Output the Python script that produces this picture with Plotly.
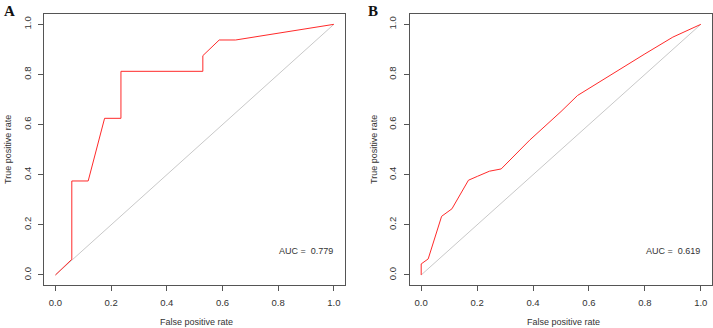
import plotly.graph_objects as go

# Panel A ROC points
fpr_a = [0.0, 0.0588, 0.0588, 0.1176, 0.1765, 0.2353, 0.2353, 0.5294, 0.5294, 0.5882, 0.6471, 1.0]
tpr_a = [0.0, 0.0625, 0.375, 0.375, 0.625, 0.625, 0.8125, 0.8125, 0.875, 0.9375, 0.9375, 1.0]
# Panel B ROC points
fpr_b = [0.0, 0.0, 0.025, 0.073, 0.110, 0.169, 0.202, 0.244, 0.286, 0.388, 0.5, 0.559, 0.8, 0.9, 1.0]
tpr_b = [0.0, 0.044, 0.064, 0.234, 0.264, 0.378, 0.394, 0.414, 0.423, 0.538, 0.652, 0.716, 0.882, 0.949, 1.0]
auc_labels = ["AUC =  0.779", "AUC =  0.619"]
panel_labels = ["A", "B"]
ticks = [0.0, 0.2, 0.4, 0.6, 0.8, 1.0]
tick_text = ["0.0", "0.2", "0.4", "0.6", "0.8", "1.0"]

RED = "#ff2a2a"
GRID = "#c8c8c8"
AX = "#555555"
TXT = "#333333"
FONT = "Liberation Sans, Arial, sans-serif"

fig = go.Figure()
for i, (fx, ty) in enumerate([(fpr_a, tpr_a), (fpr_b, tpr_b)]):
    xa = "x" if i == 0 else "x2"
    ya = "y" if i == 0 else "y2"
    fig.add_trace(go.Scatter(x=[0, 1], y=[0, 1], mode="lines", xaxis=xa, yaxis=ya,
                             line=dict(color=GRID, width=1), showlegend=False, hoverinfo="skip"))
    fig.add_trace(go.Scatter(x=fx, y=ty, mode="lines", xaxis=xa, yaxis=ya,
                             line=dict(color=RED, width=1), showlegend=False))

ydom = [(328 - 285) / 328, (328 - 14.3) / 328]
xdoms = [[44.3 / 713, 345 / 713], [410 / 713, 712 / 713]]

axis_common = dict(range=[-0.04, 1.04], showgrid=False, zeroline=False, showline=True,
                   mirror=True, linecolor=AX, linewidth=1, ticks="outside", ticklen=5,
                   tickcolor=AX, tickwidth=1, tickvals=ticks, ticktext=tick_text,
                   tickfont=dict(family=FONT, size=9.5, color=TXT))

layout = dict(width=713, height=328, margin=dict(l=0, r=0, t=0, b=0),
              paper_bgcolor="white", plot_bgcolor="white",
              font=dict(family=FONT, size=9, color=TXT))
layout["xaxis"] = dict(domain=xdoms[0], anchor="y", ticklabelstandoff=4, **axis_common)
layout["yaxis"] = dict(domain=ydom, anchor="x", tickangle=-90, ticklabelstandoff=4, **axis_common)
layout["xaxis2"] = dict(domain=xdoms[1], anchor="y2", ticklabelstandoff=4, **axis_common)
layout["yaxis2"] = dict(domain=ydom, anchor="x2", tickangle=-90, ticklabelstandoff=4, **axis_common)
fig.update_layout(**layout)

ann = []
for i in range(2):
    x0, x1 = xdoms[i]
    xa = "x" if i == 0 else "x2"
    ya = "y" if i == 0 else "y2"
    ann.append(dict(text="False positive rate", xref="paper", yref="paper",
                    x=(x0 + x1) / 2 + 0.003, y=(328 - 322) / 328, showarrow=False,
                    xanchor="center", yanchor="middle", font=dict(size=9, color=TXT)))
    ann.append(dict(text="True positive rate", xref="paper", yref="paper",
                    x=(8 + (0 if i == 0 else 366)) / 713, y=(328 - 150) / 328, textangle=-90,
                    showarrow=False, xanchor="center", yanchor="middle",
                    font=dict(size=9, color=TXT)))
    ann.append(dict(text=auc_labels[i], xref=xa, yref=ya, x=0.9, y=0.097, showarrow=False,
                    xanchor="center", yanchor="middle", font=dict(size=9, color=TXT)))
    ann.append(dict(text="<b>%s</b>" % panel_labels[i], xref="paper", yref="paper",
                    x=(2 if i == 0 else 366) / 713, y=1 - 1 / 328, showarrow=False,
                    xanchor="left", yanchor="top",
                    font=dict(family="Liberation Serif, Times New Roman, serif", size=15,
                              color="#111111")))
fig.update_layout(annotations=ann)

fig.write_html("out.html", config={"displayModeBar": False},
               post_script="document.body.style.margin='0';document.body.style.overflow='hidden';")
